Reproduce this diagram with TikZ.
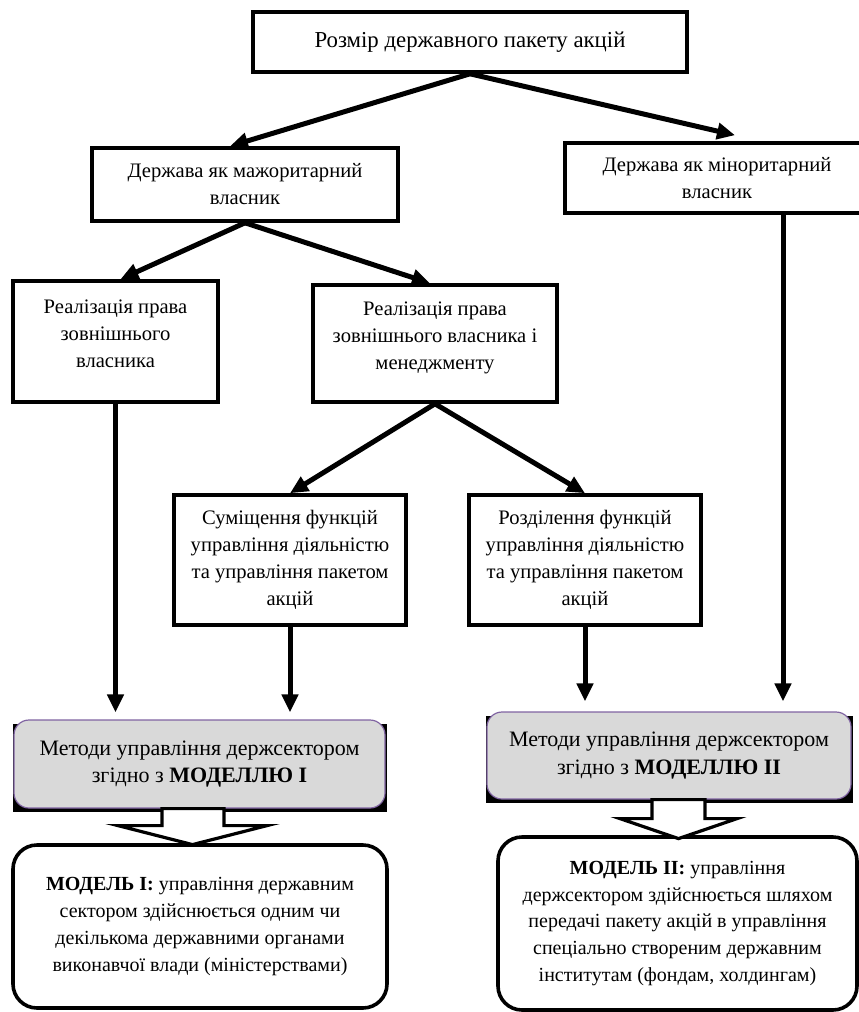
\documentclass[tikz,border=0pt]{standalone}
\usepackage{fontspec}
\setmainfont{Liberation Serif}
\usetikzlibrary{arrows.meta, calc, backgrounds}

\begin{document}
\begin{tikzpicture}[
        x=0.5pt, y=-0.5pt,
        every node/.style={font=\fontsize{10.3}{13.5}\selectfont},
        box/.style={rectangle, draw, line width=1.8pt, align=center, inner sep=2pt},
        method/.style={rectangle, rounded corners=7.5pt, draw={rgb,255:red,128;green,100;blue,162}, line width=0.6pt, fill={rgb,255:red,217;green,217;blue,217}, align=center, font=\fontsize{11}{13.8}\selectfont},
        model/.style={rectangle, rounded corners=12pt, draw, line width=1.8pt, align=center, font=\fontsize{10}{13.4}\selectfont},
        link/.style={draw, line width=2.5pt, -{Triangle[length=9pt, width=8pt]}},
        bigarrow/.style={draw, line width=1.6pt, fill=white, line join=miter}
    ]
    \useasboundingbox (0,0) rectangle (858,1012);

    % верхній блок
    \node[box, minimum width=217pt, minimum height=30pt, font=\fontsize{11.4}{13.5}\selectfont] (size) at (470,42) {Розмір державного пакету акцій};

    % мажоритарний і міноритарний власник
    \node[box, minimum width=153pt, minimum height=36.5pt] (major) at (245,184.5) {Держава як мажоритарний\\власник};
    \node[box, minimum width=152pt, minimum height=35pt] (minor) at (717,178) {Держава як міноритарний\\власник};

    % реалізація права
    \node[box, minimum width=102.5pt, minimum height=60.5pt] (outer) at (115.5,341.5) {Реалізація права\\зовнішнього\\власника\\[-6pt]};
    \node[box, minimum width=122pt, minimum height=58.5pt] (outermgmt) at (435,343.5) {Реалізація права\\зовнішнього власника і\\менеджменту\\[-6pt]};

    % суміщення та розділення функцій
    \node[box, minimum width=116pt, minimum height=65pt] (joint) at (290,560) {Суміщення функцій\\управління діяльністю\\та управління пакетом\\акцій};
    \node[box, minimum width=116pt, minimum height=65pt] (split) at (585,560) {Розділення функцій\\управління діяльністю\\та управління пакетом\\акцій};

    % методи управління
    \node[method, minimum width=185.5pt, minimum height=44pt] (methI) at (199.5,764) {Методи управління держсектором\\згідно з \textbf{МОДЕЛЛЮ I}};
    \node[method, minimum width=182pt, minimum height=43.5pt] (methII) at (669,755.5) {Методи управління держсектором\\згідно з \textbf{МОДЕЛЛЮ II}};

    % моделі
    \node[model, minimum width=187pt, minimum height=81.5pt] (modI) at (200,926.5) {\textbf{МОДЕЛЬ I:} управління державним\\сектором здійснюється одним чи\\декількома державними органами\\виконавчої влади (міністерствами)};
    \node[model, minimum width=179.5pt, minimum height=86.5pt] (modII) at (677.5,923.5) {\textbf{МОДЕЛЬ II:} управління\\держсектором здійснюється шляхом\\передачі пакету акцій в управління\\спеціально створеним державним\\інститутам (фондам, холдингам)};

    % тінь під методами
    \begin{scope}[on background layer]
        \fill ($(methI.north west)+(0,5)$) rectangle ($(methI.south east)+(1.5,3)$);
        \fill ($(methII.north west)+(0,5)$) rectangle ($(methII.south east)+(1.5,3)$);
    \end{scope}

    % стрілки
    \draw[link] (size.south) -- ($(major.north)+(-15,0)$);
    \draw[link] (size.south) -- ($(minor.north)+(18,-6)$);
    \draw[link] (major.south) -- ($(outer.north)+(5,0)$);
    \draw[link] (major.south) -- ($(outermgmt.north)+(-5,0)$);
    \draw[link] (outermgmt.south) -- (joint.north);
    \draw[link] (outermgmt.south) -- (split.north);
    \draw[link, shorten >=3.5pt] (outer.south) -- (outer.south |- methI.north);
    \draw[link, shorten >=3.5pt] (joint.south) -- (joint.south |- methI.north);
    \draw[link, shorten >=5pt] (split.south) -- (split.south |- methII.north);
    \draw[link, shorten >=5pt] ($(minor.south)+(66,0)$) coordinate (minordrop) -- (minordrop |- methII.north);

    % блокові стрілки до моделей
    \draw[bigarrow] ($(methI.south)+(-37.5,0)$) -- ++(0,17) -- ++(-44,0) -- ($(methI.south)+(-7,36)$) -- ($(methI.south)+(67.5,17)$) -- ++(-43,0) -- ++(0,-17) -- cycle;
    \draw[bigarrow] ($(methII.south)+(-17,0)$) -- ++(0,19) -- ++(-32,0) -- ($(methII.south)+(9.5,39)$) -- ($(methII.south)+(68,19)$) -- ++(-32,0) -- ++(0,-19) -- cycle;

\end{tikzpicture}
\end{document}
